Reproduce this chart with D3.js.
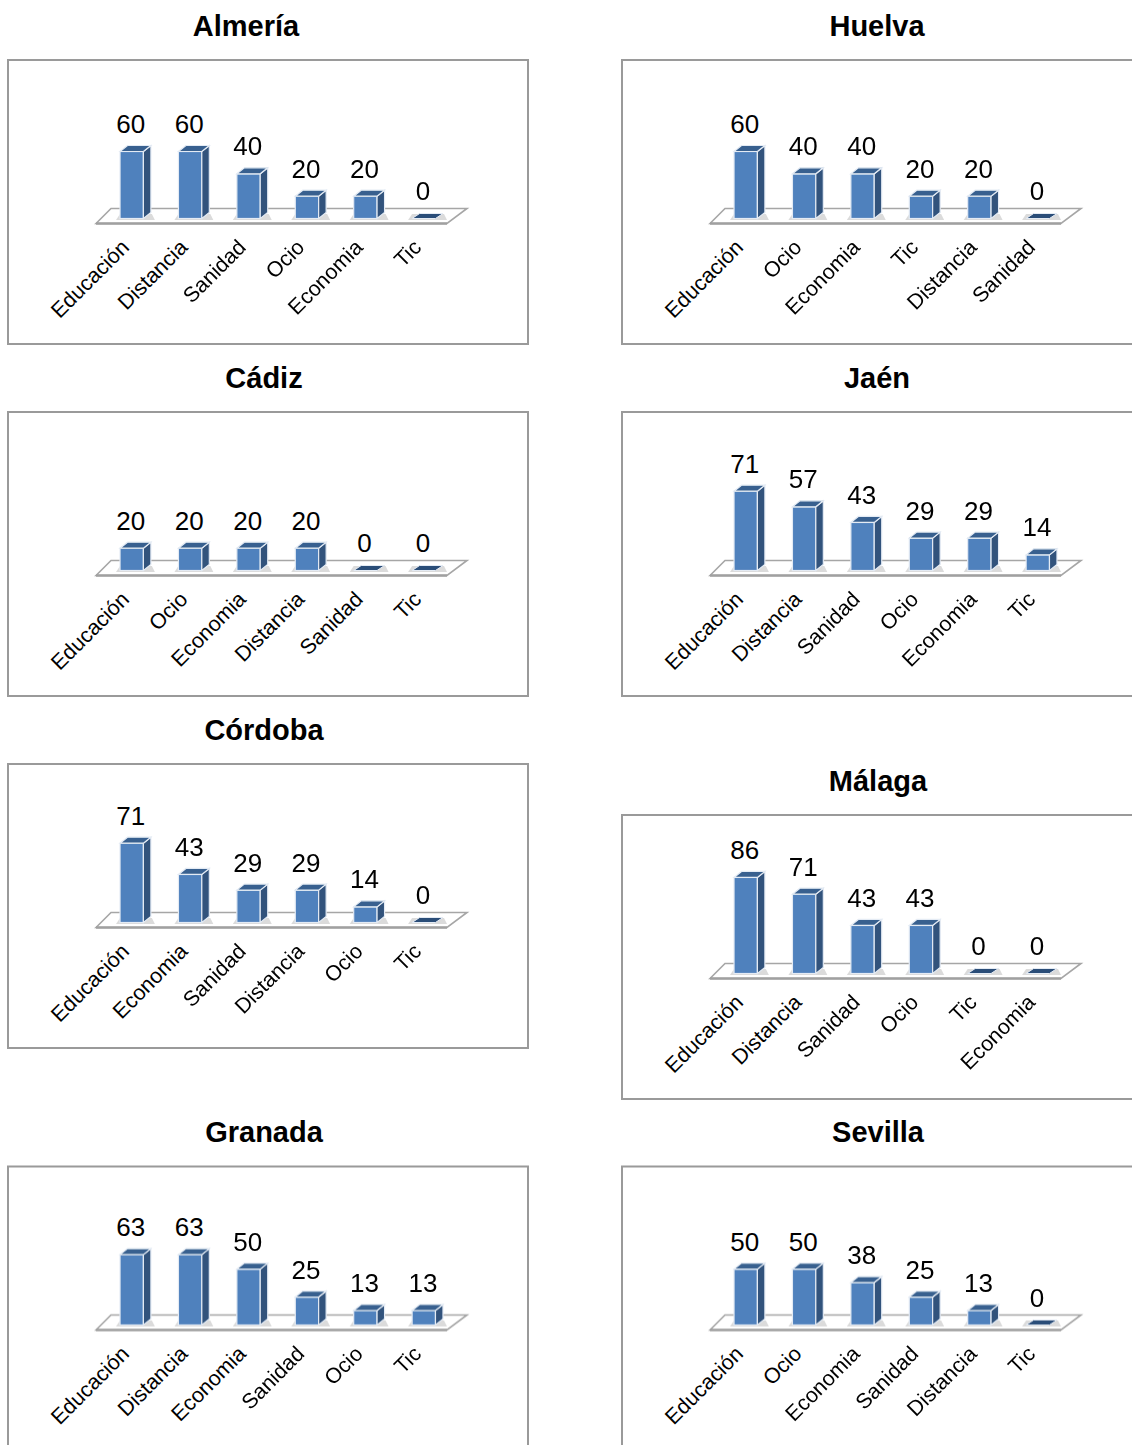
<!DOCTYPE html>
<html><head><meta charset="utf-8">
<script src="https://cdn.jsdelivr.net/npm/d3@7"></script>
<style>html,body{margin:0;padding:0;background:#fff;overflow:hidden}svg{display:block}text{font-family:"Liberation Sans",Arial,sans-serif;fill:#000}</style>
</head><body><svg id="c" width="1132" height="1445"><defs><filter id="soft" x="-10%" y="-10%" width="120%" height="120%"><feGaussianBlur stdDeviation="0.35"/></filter></defs></svg>
<script>
const titles=["Almería","Cádiz","Córdoba","Granada","Huelva","Jaén","Málaga","Sevilla"];
const cats=[
["Educación","Distancia","Sanidad","Ocio","Economia","Tic"],
["Educación","Ocio","Economia","Distancia","Sanidad","Tic"],
["Educación","Economia","Sanidad","Distancia","Ocio","Tic"],
["Educación","Distancia","Economia","Sanidad","Ocio","Tic"],
["Educación","Ocio","Economia","Tic","Distancia","Sanidad"],
["Educación","Distancia","Sanidad","Ocio","Economia","Tic"],
["Educación","Distancia","Sanidad","Ocio","Tic","Economia"],
["Educación","Ocio","Economia","Sanidad","Distancia","Tic"]];
const vals=[
[60,60,40,20,20,0],
[20,20,20,20,0,0],
[71,43,29,29,14,0],
[63,63,50,25,13,13],
[60,40,40,20,20,0],
[71,57,43,29,29,14],
[86,71,43,43,0,0],
[50,50,38,25,13,0]];
const panelX=[8,8,8,8,622,622,622,622];
const panelY=[60,412,764,1166.5,60,412,815,1166.5];
const titleX=[246,264,264,264,877,877,878,878];

const svg=d3.select("#c");
const W=520,H=284;
const idx=d3.range(6);
const x=d3.scaleBand().domain(idx).range([94.5,445]).paddingInner(0.6).paddingOuter(0.3);
const y=d3.scaleLinear().domain([0,100]).range([158.5,46.8]);
const dx=7.5,dy=6;
titles.forEach((t,i)=>{
  const g=svg.append("g").attr("transform",`translate(${panelX[i]},${panelY[i]})`);
  svg.append("text").attr("x",titleX[i]).attr("y",Math.floor(panelY[i])-24).attr("text-anchor","middle")
    .attr("font-weight","bold").attr("font-size",29).text(t);
  g.append("rect").attr("width",W).attr("height",H).attr("fill","#fff").attr("stroke","#9a9a9a").attr("stroke-width",2);
  const fy=y(0)+5, by=y(0)-10;
  const m=g.append("g").attr("filter","url(#soft)");
  m.append("path").attr("d",`M88,${fy}L103,${by}H459L439,${fy}Z`).attr("fill","#fff").attr("stroke","#a6a6a6").attr("stroke-width",1.6);
  m.append("path").attr("d",`M88,${fy}H439`).attr("stroke","#a0a0a0").attr("stroke-width",2.6);
  idx.forEach(k=>{
    const v=vals[i][k],bx=x(k),bw=x.bandwidth(),yt=y(v),yb=y(0);
    m.append("path").attr("d",`M${bx-4},${yb+1.5}H${bx+bw+dx+4}l-3,-6H${bx}Z`).attr("fill","#cfcfcf").attr("opacity",.75);
    if(v>0){
      m.append("rect").attr("x",bx).attr("y",yt).attr("width",bw).attr("height",yb-yt).attr("fill","#4f81bd").attr("stroke","#e4ebf4").attr("stroke-width",1.2);
      m.append("path").attr("d",`M${bx+bw},${yt}l${dx},${-dy}V${yb-dy}l${-dx},${dy}Z`).attr("fill","#30527c").attr("stroke","#e4ebf4").attr("stroke-width",1.2);
      m.append("path").attr("d",`M${bx},${yt}l${dx},${-dy}h${bw}l${-dx},${dy}Z`).attr("fill","#39618f").attr("stroke","#e4ebf4").attr("stroke-width",1.2);
    } else {
      m.append("path").attr("d",`M${bx},${yb}l${dx},${-dy+1}h${bw}l${-dx},${dy-1}Z`).attr("fill","#2c4d78").attr("stroke","#e4ebf4").attr("stroke-width",1);
    }
    g.append("text").attr("x",bx+bw/2-0.9).attr("y",yt-18.5).attr("text-anchor","middle").attr("font-size",26).text(v);
    g.append("text").attr("transform",`translate(${bx+bw/2-1.3},${yb+30.2}) rotate(-45)`).attr("text-anchor","end").attr("font-size",21.4).text(cats[i][k]);
  });
});
</script></body></html>
